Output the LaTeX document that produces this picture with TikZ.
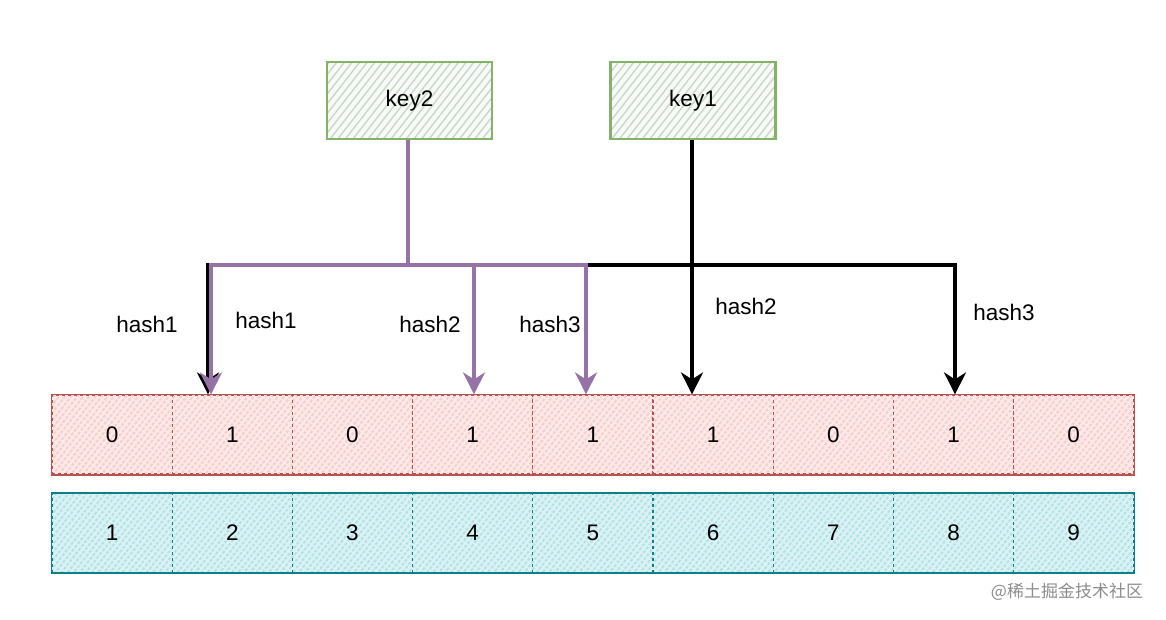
\documentclass[tikz,border=0pt]{standalone}
\usepackage{fontspec}
\setmainfont{Liberation Sans}
\newfontfamily\cjk{Noto Sans CJK SC}
\usetikzlibrary{patterns.meta,arrows.meta}
\definecolor{gfill}{HTML}{D5E8D4}
\definecolor{gline}{HTML}{82B366}
\definecolor{rfill}{HTML}{F8CECC}
\definecolor{rline}{HTML}{B85450}
\definecolor{tfill}{HTML}{B0E3E6}
\definecolor{tline}{HTML}{0E8088}
\definecolor{purp}{HTML}{9673A6}
\tikzset{
  hatch/.style={preaction={fill=#1!45},pattern={Lines[angle=52,distance=4.8pt,line width=2pt]},pattern color=#1},
  keyhatch/.style={preaction={fill=#1!20},pattern={Lines[angle=52,distance=6pt,line width=1.4pt]},pattern color=#1!85!gray},
  keybox/.style={draw=gline,line width=2.4pt,keyhatch=gfill,minimum width=165pt,minimum height=77pt,inner sep=0pt,font=\fontsize{22.5}{24}\selectfont},
  cell/.style={minimum width=120.2pt,minimum height=79pt,inner sep=0pt,font=\fontsize{22.5}{24}\selectfont},
  rcell/.style={cell,hatch=rfill,draw=rline,dashed,line width=1.2pt},
  tcell/.style={cell,hatch=tfill,draw=tline,dashed,line width=1.2pt},
  conn/.style={line width=3.2pt},
  arr/.style={conn,-{Stealth[length=22pt,width=22pt,inset=7pt]}},
  lbl/.style={font=\fontsize{22.5}{24}\selectfont},
}
\begin{document}
\begin{tikzpicture}[x=1pt,y=-1pt]
\useasboundingbox (0,0) rectangle (1166,620);
% key boxes
\node[keybox] (key2) at (409.5,100.5) {key2};
\node[keybox] (key1) at (693,100.5) {key1};
% red row
\foreach \v [count=\i] in {0,1,0,1,1,1,0,1,0} {
  \node[rcell] (r\i) at ({52+60.1+120.2*(\i-1)},434.5) {\v};
}
\draw[rline,line width=1.8pt] (r1.north west) rectangle (r9.south east);
% teal row
\foreach \v [count=\i] in {1,...,9} {
  \node[tcell] (t\i) at ({52+60.1+120.2*(\i-1)},533) {\v};
}
\draw[tline,line width=1.8pt] (t1.north west) rectangle (t9.south east);
% junction coordinates
\coordinate (j1) at (692,265);
\coordinate (j2) at (408,265);
\coordinate (b1) at (208,265);
\coordinate (b3) at (955,265);
\coordinate (p1) at (211,265);
\coordinate (p2) at (474,265);
\coordinate (p3) at (586,265);
% key1 connectors (black)
\draw[arr,black] (key1.south -| j1) -- (j1 |- r6.north);
\draw[arr,black] (j1) -- (b1) -- (b1 |- r2.north);
\draw[arr,black] (j1) -- (b3) -- (b3 |- r8.north);
% key2 connectors (purple)
\draw[conn,purp] (key2.south -| j2) -- (j2);
\draw[arr,purp] (j2) -- (p1) -- (p1 |- r2.north);
\draw[arr,purp] (j2) -- (p3) -- (p3 |- r5.north);
\draw[arr,purp] (p2) -- (p2 |- r4.north);
% labels
\node[lbl] (l1) at (147,324) {hash1};
\node[lbl] (l2) at (266,320) {hash1};
\node[lbl] (l3) at (430,324) {hash2};
\node[lbl] (l4) at (550,324) {hash3};
\node[lbl] (l5) at (746,306) {hash2};
\node[lbl] (l6) at (1004,312) {hash3};
% watermark
\node[text=black!45,font=\cjk\fontsize{17}{19}\selectfont] (wm) at (1067,592) {@稀土掘金技术社区};
\end{tikzpicture}
\end{document}
